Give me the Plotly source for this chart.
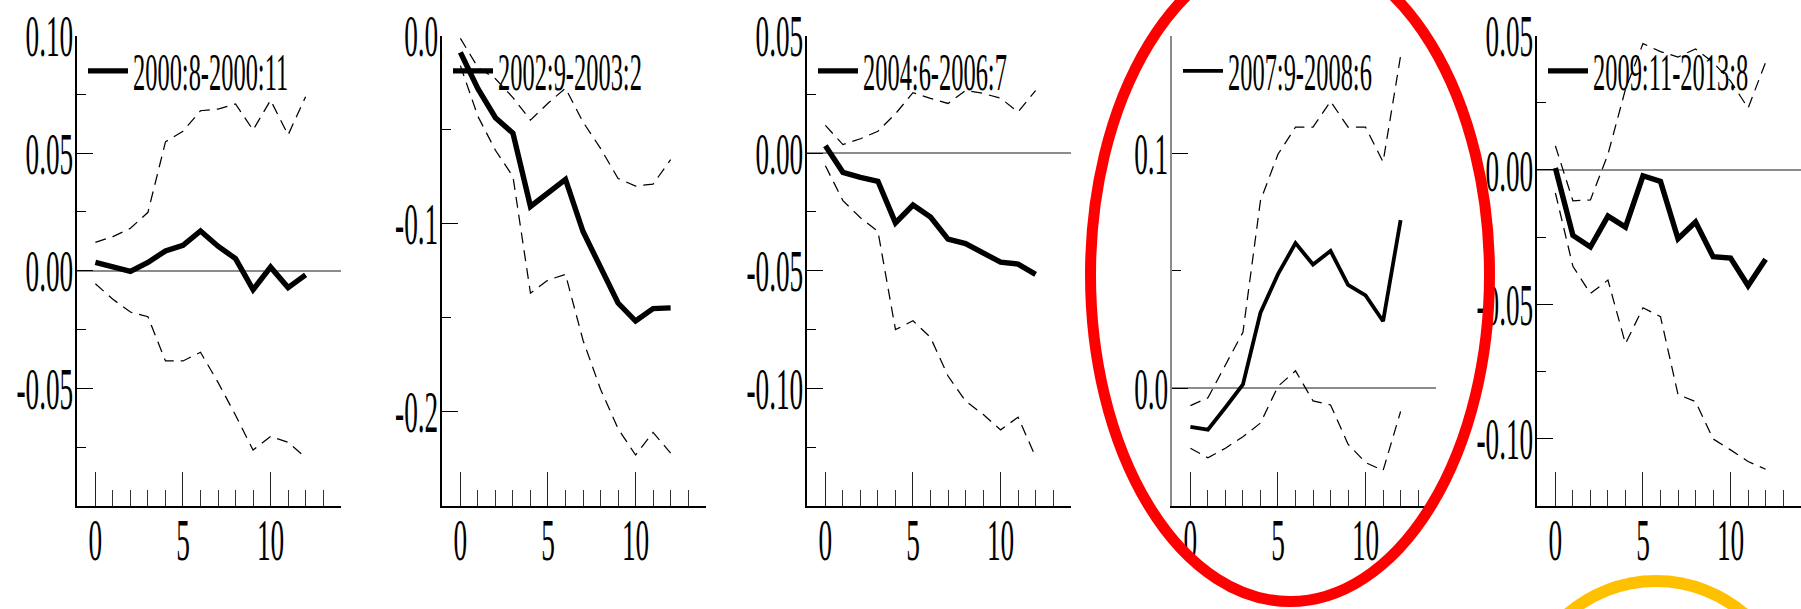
import plotly.graph_objects as go

# ---------------- data ----------------
horizon = list(range(13))
periods = ["2000:8-2000:11", "2002:9-2003:2", "2004:6-2006:7", "2007:9-2008:6", "2009:11-2013:8"]

median_1 = [0.0035, 0.0013, -0.0003, 0.0035, 0.0084, 0.0108, 0.0169, 0.0104, 0.0051, -0.0081, 0.0015, -0.0072, -0.0018]
upper_1 = [0.0120, 0.0145, 0.0180, 0.0248, 0.0548, 0.0593, 0.0680, 0.0687, 0.0709, 0.0598, 0.0725, 0.0577, 0.0740]
lower_1 = [-0.0056, -0.0122, -0.0176, -0.0196, -0.0384, -0.0384, -0.0347, -0.0475, -0.0615, -0.0763, -0.0705, -0.0730, -0.0795]

median_2 = [-0.0090, -0.0283, -0.0437, -0.0519, -0.0909, -0.0837, -0.0765, -0.1042, -0.1227, -0.1422, -0.1518, -0.1452, -0.1448]
upper_2 = [-0.0015, -0.0170, -0.0230, -0.0330, -0.0450, -0.0360, -0.0280, -0.0460, -0.0600, -0.0760, -0.0800, -0.0790, -0.0660]
lower_2 = [-0.0160, -0.0430, -0.0610, -0.0750, -0.1370, -0.1300, -0.1270, -0.1620, -0.1880, -0.2090, -0.2230, -0.2110, -0.2220]

median_3 = [0.0031, -0.0082, -0.0103, -0.0120, -0.0297, -0.0221, -0.0272, -0.0366, -0.0385, -0.0423, -0.0464, -0.0472, -0.0516]
upper_3 = [0.0118, 0.0036, 0.0061, 0.0093, 0.0167, 0.0257, 0.0233, 0.0211, 0.0266, 0.0254, 0.0233, 0.0175, 0.0266]
lower_3 = [-0.0054, -0.0202, -0.0275, -0.0333, -0.0751, -0.0713, -0.0784, -0.0948, -0.1054, -0.1111, -0.1177, -0.1123, -0.1292]

median_4 = [-0.0164, -0.0176, -0.0082, 0.0016, 0.0321, 0.0485, 0.0617, 0.0526, 0.0584, 0.0439, 0.0395, 0.0285, 0.0715]
upper_4 = [-0.0074, -0.0041, 0.0099, 0.0238, 0.0798, 0.0995, 0.1110, 0.1110, 0.1220, 0.1110, 0.1110, 0.0962, 0.1414]
lower_4 = [-0.0255, -0.0296, -0.0255, -0.0206, -0.0148, 0.0008, 0.0074, -0.0054, -0.0071, -0.0238, -0.0316, -0.0350, -0.0099]

median_5 = [0.0007, -0.0244, -0.0287, -0.0172, -0.0213, -0.0022, -0.0043, -0.0256, -0.0194, -0.0323, -0.0328, -0.0431, -0.0333]
upper_5 = [0.0089, -0.0115, -0.0112, 0.0058, 0.0300, 0.0470, 0.0440, 0.0420, 0.0450, 0.0400, 0.0330, 0.0230, 0.0400]
lower_5 = [-0.0086, -0.0359, -0.0460, -0.0410, -0.0647, -0.0513, -0.0546, -0.0836, -0.0862, -0.1001, -0.1042, -0.1085, -0.1114]

ytick_vals_1 = [0.10, 0.05, 0.00, -0.05]
ytick_text_1 = ["0.10", "0.05", "0.00", "-0.05"]
ytick_vals_2 = [0.0, -0.1, -0.2]
ytick_text_2 = ["0.0", "-0.1", "-0.2"]
ytick_vals_3 = [0.05, 0.00, -0.05, -0.10]
ytick_text_3 = ["0.05", "0.00", "-0.05", "-0.10"]
ytick_vals_4 = [0.1, 0.0]
ytick_text_4 = ["0.1", "0.0"]
ytick_vals_5 = [0.05, 0.00, -0.05, -0.10]
ytick_text_5 = ["0.05", "0.00", "-0.05", "-0.10"]

# ---------------- layout helpers ----------------
W, H = 1801, 609
FONT = "Liberation Serif, Times New Roman, serif"
panel_left_px = [77, 442, 807, 1172, 1537]
panel_w_px = 264
y_dom = [(H - 505.8) / H, (H - 35.5) / H]
y_ranges = [[-0.1, 0.1], [-0.25, 0.0], [-0.15, 0.05], [-0.05, 0.15], [-0.125, 0.05]]
minor_dt = [0.025, 0.05, 0.025, 0.05, 0.025]

medians = [median_1, median_2, median_3, median_4, median_5]
uppers = [upper_1, upper_2, upper_3, upper_4, upper_5]
lowers = [lower_1, lower_2, lower_3, lower_4, lower_5]
tvals = [ytick_vals_1, ytick_vals_2, ytick_vals_3, ytick_vals_4, ytick_vals_5]
ttext = [ytick_text_1, ytick_text_2, ytick_text_3, ytick_text_4, ytick_text_5]

fig = go.Figure()
layout = dict(
    width=W, height=H,
    margin=dict(l=0, r=0, t=0, b=0, autoexpand=False),
    paper_bgcolor="white", plot_bgcolor="white",
    showlegend=True,
    font=dict(family=FONT, color="black"),
)

for i in range(5):
    n = i + 1
    sfx = "" if n == 1 else str(n)
    xa, ya = "x" + sfx, "y" + sfx
    leg = "legend" + sfx
    dash_style = dict(color="black", width=1.25, dash="11px,7px")
    fig.add_trace(go.Scatter(x=horizon, y=uppers[i], mode="lines", line=dash_style,
                             xaxis=xa, yaxis=ya, showlegend=False, hoverinfo="skip"))
    fig.add_trace(go.Scatter(x=horizon, y=lowers[i], mode="lines", line=dash_style,
                             xaxis=xa, yaxis=ya, showlegend=False, hoverinfo="skip"))
    fig.add_trace(go.Scatter(x=horizon, y=medians[i], mode="lines", name=periods[i],
                             line=dict(color="black", width=3.8 if n == 4 else 5.4),
                             xaxis=xa, yaxis=ya, legend=leg, showlegend=True))

    left = panel_left_px[i]
    axis_color = "#8a8a8a" if n == 4 else "black"
    layout["xaxis" + sfx] = dict(
        domain=[left / W, min(1.0, (left + panel_w_px) / W)],
        range=[-1.05, 14.02], anchor=ya,
        showline=True, linecolor="black", linewidth=1.5,
        ticks="inside", ticklen=34, tickwidth=1.2, tickcolor="#222",
        tickmode="linear", tick0=0, dtick=5,
        minor=dict(ticks="inside", ticklen=16, tickwidth=1.2, tickcolor="#333",
                   tickmode="linear", tick0=0, dtick=1),
        showgrid=False, zeroline=False,
        tickfont=dict(family=FONT, size=30, color="black"),
        ticklabelstandoff=0,
    )
    layout["yaxis" + sfx] = dict(
        domain=y_dom, range=y_ranges[i], anchor=xa,
        showline=True, linecolor=axis_color, linewidth=1.5,
        ticks="inside", ticklen=16, tickwidth=1.2, tickcolor="black",
        tickmode="array", tickvals=tvals[i], ticktext=ttext[i],
        minor=dict(ticks="inside", ticklen=9, tickwidth=1.2, tickcolor="black",
                   tickmode="linear", tick0=0, dtick=minor_dt[i]),
        showgrid=False,
        zeroline=(n != 2), zerolinecolor="#8c8c8c", zerolinewidth=2,
        tickfont=dict(family=FONT, size=30, color="black"),
    )
    layout[leg] = dict(
        x=(left + 6) / W, xanchor="left", y=(H - 71) / H, yanchor="middle",
        bgcolor="rgba(0,0,0,0)", borderwidth=0, itemwidth=40,
        font=dict(family=FONT, size=26, color="black"),
    )

# highlight annotations drawn over the figure
layout["shapes"] = [
    dict(type="circle", xref="paper", yref="paper", layer="above",
         x0=(1290 - 199.5) / W, x1=(1290 + 199.5) / W,
         y0=(H - (275 + 326.5)) / H, y1=(H - (275 - 326.5)) / H,
         line=dict(color="#FF0000", width=11)),
    dict(type="circle", xref="paper", yref="paper", layer="above",
         x0=(1656 - 135) / W, x1=(1656 + 135) / W,
         y0=(H - (716 + 135)) / H, y1=(H - (716 - 135)) / H,
         line=dict(color="#FFC000", width=12)),
]

fig.update_layout(**layout)

# page without body margin; condensed-type look of the original scan
squeeze_js = """
document.documentElement.style.margin = '0';
document.body.style.margin = '0';
document.body.style.padding = '0';
var gd = document.getElementById('{plot_id}');
function squeezeEl(el, sx, sy, mode, dx, dy) {
  try {
    var cur = el.getAttribute('transform') || '';
    var key = (el.getAttribute('x') || '') + '|' + (el.getAttribute('y') || '') + '|' + el.textContent;
    var base = cur;
    if (el.getAttribute('data-sq') !== null && el.getAttribute('data-sq') === cur) {
      if (el.getAttribute('data-key') === key) return;
      base = el.getAttribute('data-base') || '';
    }
    var b = el.getBBox();
    if (!b || b.width === 0) return;
    var ax = mode === 'end' ? b.x + b.width : (mode === 'start' ? b.x : b.x + b.width / 2);
    var ay = b.y + b.height / 2;
    var t = base + ' translate(' + (ax + dx) + ',' + (ay + dy) + ') scale(' + sx + ',' + sy + ') translate(' + (-ax) + ',' + (-ay) + ')';
    el.setAttribute('data-base', base);
    el.setAttribute('transform', t);
    el.setAttribute('data-sq', el.getAttribute('transform'));
    el.setAttribute('data-key', key);
  } catch (e) {}
}
function squeeze(sel, sx, sy, mode, dx, dy) {
  var els = gd.querySelectorAll(sel);
  for (var i = 0; i < els.length; i++) squeezeEl(els[i], sx, sy, mode, dx, dy);
}
var busy = false;
var legRe = /legend[0-9]*text/;
function run() {
  if (busy) return;
  busy = true;
  squeeze('.yaxislayer-above text', 0.91, 1.97, 'end', 4, 0);
  squeeze('.xaxislayer-above text', 0.91, 2.0, 'middle', 0, 6);
  var all = gd.querySelectorAll('text');
  for (var i = 0; i < all.length; i++) {
    var el = all[i];
    var cls = el.getAttribute('class') || '';
    if (legRe.test(cls)) squeezeEl(el, 0.94, 2.0, 'start', 0, 0);
  }
  busy = false;
}
run();
var mo = new MutationObserver(function() { run(); });
mo.observe(gd, {childList: true, subtree: true, attributes: true, attributeFilter: ['x', 'y', 'transform'], characterData: true});
requestAnimationFrame(run);
setTimeout(run, 50);
setTimeout(run, 200);
setTimeout(run, 600);
"""

fig.write_html("out.html", post_script=squeeze_js, config={"displayModeBar": False})
